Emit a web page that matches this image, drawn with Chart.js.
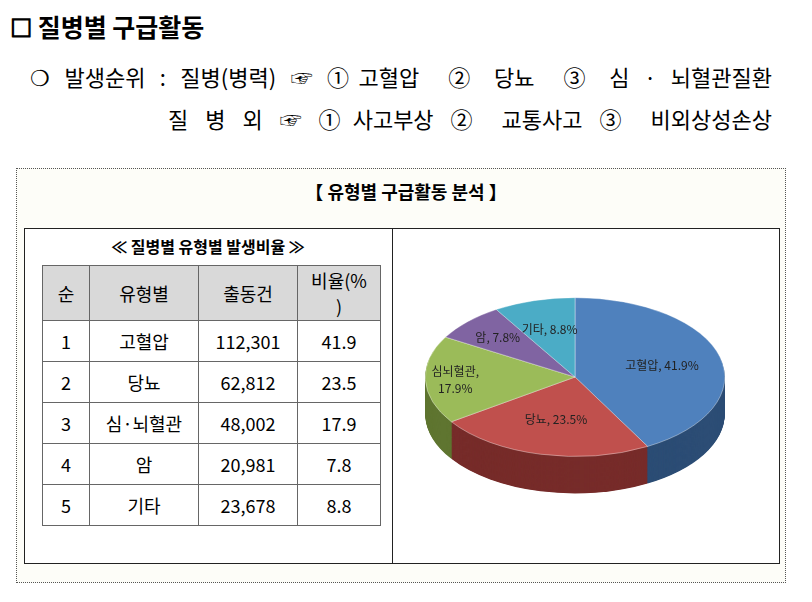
<!DOCTYPE html>
<html><head><meta charset="utf-8">
<script src="https://cdn.jsdelivr.net/npm/chart.js@4"></script>
<style>
body{margin:0;width:812px;height:602px;background:#fff;font-family:"Noto Sans CJK KR",sans-serif;position:relative;overflow:hidden;color:#000}
.abs{position:absolute;white-space:nowrap}
.just{position:absolute;text-align:justify;text-align-last:justify;white-space:normal}
#box{position:absolute;left:16px;top:168px;width:768px;height:413px;border:1px dotted #555;background:#fdfdf8}
#inner{position:absolute;left:24px;top:228px;width:754px;height:334px;border:1px solid #222;background:#fff}
#div{position:absolute;left:392px;top:228px;width:1px;height:335px;background:#222}
table{position:absolute;left:42px;top:265px;border-collapse:collapse;font-size:18px;font-family:"Noto Sans CJK KR"}
td{border:1px solid #666;text-align:center;height:40px;padding:0}
th{border:1px solid #666;background:#d9d9d9;font-weight:normal;height:54px;padding:0}
#pie{position:absolute;left:393px;top:229px;width:385px;height:333px}
</style></head><body>
<div class="abs" style="left:10px;top:8px;font-size:25px;font-weight:bold">☐ 질병별 구급활동</div>
<div class="just" style="left:30px;top:60px;width:742px;font-size:22px">❍ 발생순위 : 질병(병력) ☞ ①고혈압 &nbsp;② 당뇨 &nbsp;③ 심 · 뇌혈관질환</div>
<div class="just" style="left:168px;top:102px;width:604px;font-size:22px">질 병 외 ☞ ①사고부상 ② 교통사고 ③ 비외상성손상</div>
<div id="box"></div>
<div class="abs" style="left:0;width:812px;text-align:center;top:178px;font-size:18px;font-weight:bold">【 유형별 구급활동 분석 】</div>
<div id="inner"></div><div id="div"></div>
<div class="abs" style="left:24px;width:368px;text-align:center;top:234px;font-size:16px;font-weight:bold">≪ 질병별 유형별 발생비율 ≫</div>
<table id="tb"></table>
<div id="pie"><canvas id="c" width="385" height="333"></canvas></div>
<script>
const categories=["고혈압","당뇨","심뇌혈관","암","기타"];
const tableNames=["고혈압","당뇨","심·뇌혈관","암","기타"];
const counts=["112,301","62,812","48,002","20,981","23,678"];
const ratios=[41.9,23.5,17.9,7.8,8.8];
const colors=["#4f81bd","#c0504d","#9bbb59","#8064a2","#4bacc6"];
const darks=["#2c4d75","#772c2a","#5f7530","#4d3b62","#2c6f83"];
let h='<tr><th style="width:46px">순</th><th style="width:108px">유형별</th><th style="width:98px">출동건</th><th style="width:82px">비율(%<br>)</th></tr>';
tableNames.forEach((n,i)=>{h+=`<tr><td>${i+1}</td><td>${n}</td><td>${counts[i]}</td><td>${ratios[i]}</td></tr>`});
document.getElementById('tb').innerHTML=h;
const SY=0.53, TX=182, TY=148, DEPTH=70;
const plug={id:'p3d',
beforeDatasetsDraw(ch){const ctx=ch.ctx;const a=ch.getDatasetMeta(0).data[0];
 ctx.save();ctx.translate(TX,TY);ctx.scale(1,SY);ctx.translate(-a.x,-a.y);
 const els=ch.getDatasetMeta(0).data;
 for(let d=DEPTH;d>0;d-=1){els.forEach((e,i)=>{ctx.beginPath();ctx.moveTo(e.x,e.y+d);ctx.arc(e.x,e.y+d,e.outerRadius,e.startAngle,e.endAngle);ctx.closePath();ctx.fillStyle=darks[i];ctx.fill();});}
},
afterDatasetsDraw(ch){const ctx=ch.ctx;ctx.restore();
 const els=ch.getDatasetMeta(0).data;
 ctx.fillStyle='#222';ctx.font='12px "Noto Sans CJK KR"';ctx.textAlign='center';ctx.textBaseline='middle';
 const rf=[0.6,0.55,0.8,0.72,0.62];
 els.forEach((e,i)=>{const m=(e.startAngle+e.endAngle)/2;const r=e.outerRadius*rf[i];
  const x=TX+Math.cos(m)*r, y=TY+Math.sin(m)*r*SY;
  if(i==2){ctx.fillText(categories[i]+',',x,y-8);ctx.fillText(ratios[i]+'%',x,y+9);}
  else ctx.fillText(categories[i]+', '+ratios[i]+'%',x,y);});
}};
new Chart(document.getElementById('c'),{type:'pie',
data:{labels:categories,datasets:[{data:ratios,backgroundColor:colors,borderColor:'#fff',borderWidth:0.5}]},
options:{responsive:false,animation:false,layout:{padding:{top:16,bottom:17,left:0,right:0}},
plugins:{legend:{display:false},tooltip:{enabled:false}}},plugins:[plug]});
</script></body></html>
